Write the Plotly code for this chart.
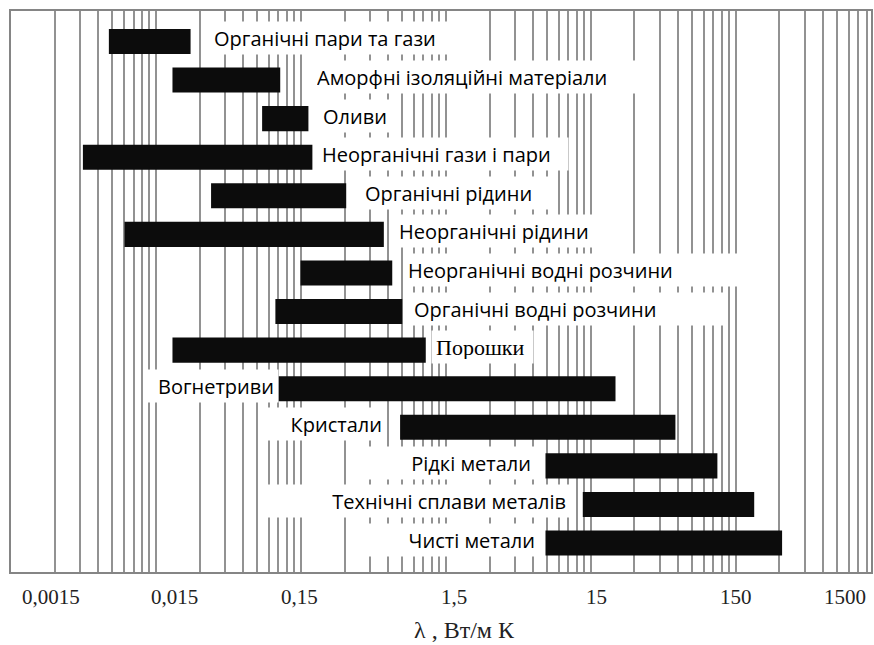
import math
import plotly.graph_objects as go

# ---------------- data ----------------
categories = [
    "Органічні пари та гази",
    "Аморфні ізоляційні матеріали",
    "Оливи",
    "Неорганічні гази і пари",
    "Органічні рідини",
    "Неорганічні рідини",
    "Неорганічні водні розчини",
    "Органічні водні розчини",
    "Порошки",
    "Вогнетриви",
    "Кристали",
    "Рідкі метали",
    "Технічні сплави металів",
    "Чисті метали",
]
low_values = [0.0071, 0.0195, 0.081, 0.0047, 0.036, 0.0091, 0.149, 0.100, 0.0195,
              0.105, 0.725, 7.3, 13.2, 7.3]
high_values = [0.026, 0.108, 0.169, 0.180, 0.308, 0.56, 0.64, 0.75, 1.09,
               22.2, 57.5, 112, 201, 313]
label_side = ["right"] * 9 + ["left"] * 5

tick_values = [0.0015, 0.015, 0.15, 1.5, 15, 150, 1500]
tick_labels = ["0,0015", "0,015", "0,15", "1,5", "15", "150", "1500"]
axis_title = "λ , Вт/м К"

# ---------------- styles ----------------
label_gap = [23, 37, 15, 10, 19, 15, 16, 12, 10, 4, 18, 14, 17, 10]
label_box_w = [241, 314, 71, 242, 179, 200, 326, 305, 93, 125, 113, 161, 295, 162]
label_font = ["Open Sans"] * 8 + ["Liberation Serif"] + ["Open Sans"] * 5
label_size = [20] * 8 + [22] + [20] * 5
tick_shift = [0, 19, -1, 8, 6, 0, -13]
tick_anchor = ["left", "center", "center", "center", "center", "center", "right"]
tick_pre = [9, 0, 0, 0, 0, 0, 0]

x_range = [math.log10(0.0015), math.log10(1285)]
y_range = [13.75, -0.79]

# grid values: 1..9 multiples within each decade starting at 0.0015
grid_values = [tick_values[0] * 10 ** n * k for n in range(7) for k in range(1, 10)]

widths = [h - l for l, h in zip(low_values, high_values)]

fig = go.Figure()
fig.add_trace(go.Bar(
    y=categories, x=widths, base=low_values, orientation="h",
    marker=dict(color="#0c0c0c", line=dict(width=0)), width=0.65,
    hoverinfo="skip", showlegend=False,
))

annotations = []
for i, cat in enumerate(categories):
    right = label_side[i] == "right"
    annotations.append(dict(
        x=math.log10(high_values[i] if right else low_values[i]), y=cat,
        xref="x", yref="y",
        text=cat, showarrow=False,
        xanchor="left" if right else "right",
        align="left" if right else "right",
        xshift=(label_gap[i] - 5) * (1 if right else -1), yshift=3,
        width=label_box_w[i], height=24,
        bgcolor="white", borderpad=4,
        font=dict(family=label_font[i], size=label_size[i], color="#000"),
    ))

span = x_range[1] - x_range[0]
for v, t, s, a, p in zip(tick_values, tick_labels, tick_shift, tick_anchor, tick_pre):
    frac = (math.log10(v) - x_range[0]) / span
    annotations.append(dict(
        x=frac, y=0, xref="paper", yref="paper", text=t, showarrow=False,
        xanchor=a, yanchor="middle", xshift=s + p, yshift=-25,
        font=dict(family="Liberation Serif", size=21, color="#222"),
    ))

annotations.append(dict(
    x=(466 - 11) / 862, y=0, xref="paper", yref="paper", text=axis_title,
    showarrow=False, xanchor="center", yanchor="middle", yshift=-58,
    font=dict(family="Liberation Serif", size=24, color="#222"),
))

fig.update_layout(
    width=874, height=645,
    margin=dict(l=11, r=1, t=11, b=73),
    paper_bgcolor="white", plot_bgcolor="white",
    bargap=0.35,
    annotations=annotations,
    xaxis=dict(
        type="log", range=x_range,
        tickvals=grid_values, showticklabels=False, ticks="",
        showgrid=True, gridcolor="#929292", gridwidth=1.8,
        showline=True, linecolor="#858585", linewidth=2, mirror=True,
        zeroline=False,
    ),
    yaxis=dict(
        type="category", range=y_range,
        showticklabels=False, ticks="", showgrid=False,
        showline=True, linecolor="#858585", linewidth=2, mirror=True,
        zeroline=False,
    ),
)

fig.write_html("out.html")
